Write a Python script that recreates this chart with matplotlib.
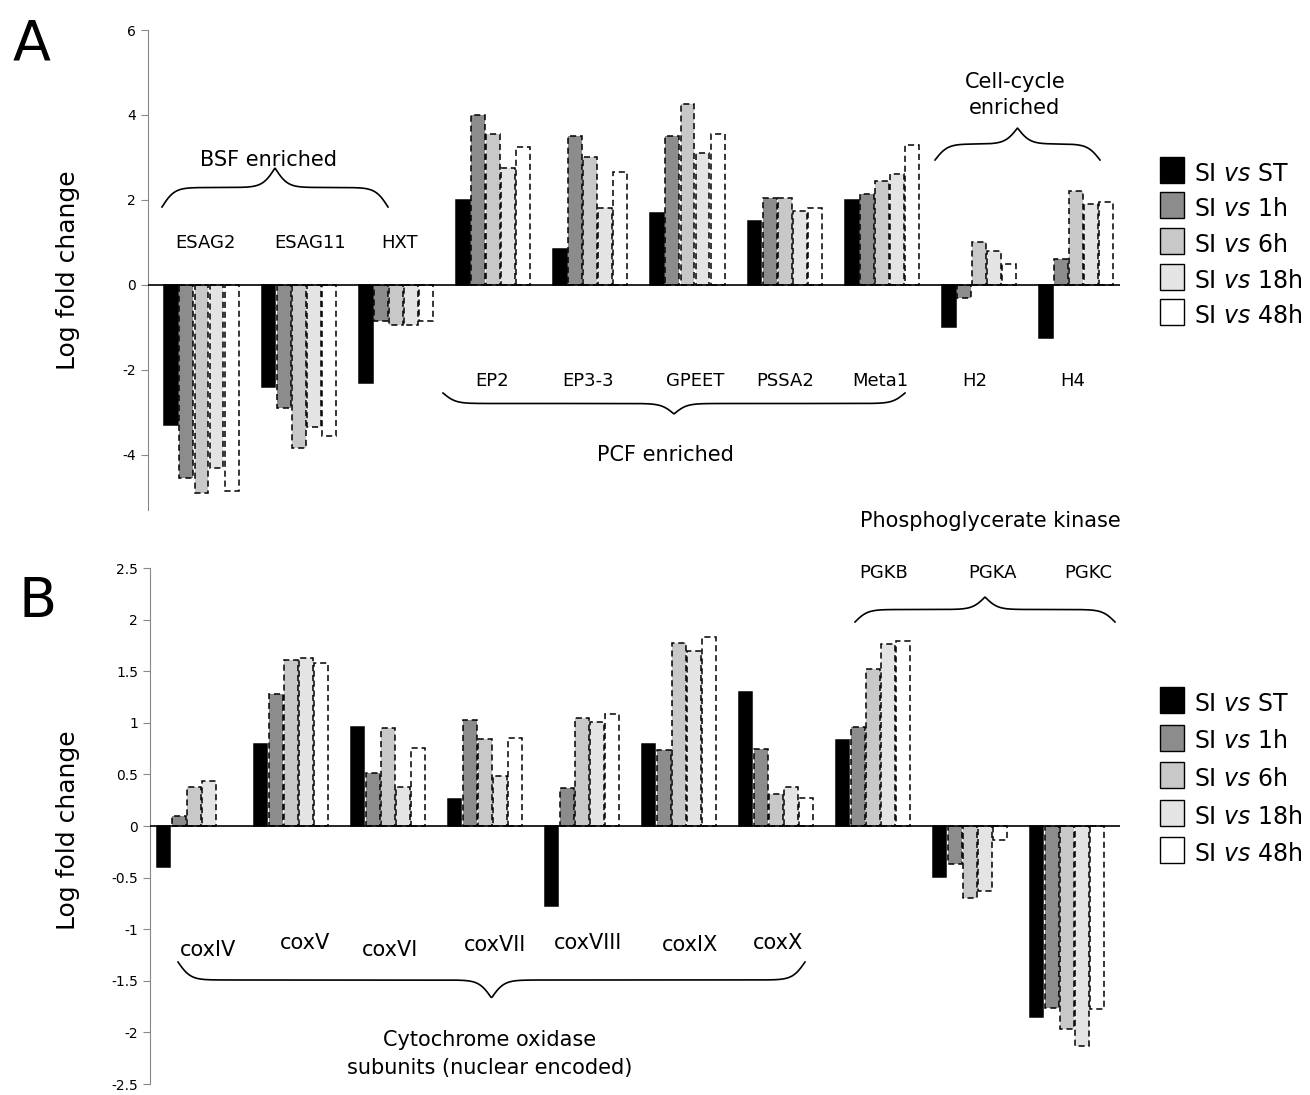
import numpy as np
import matplotlib
matplotlib.use("Agg")
import matplotlib.pyplot as plt
from matplotlib.patches import Rectangle
from matplotlib.lines import Line2D

series = ["ST", "1h", "6h", "18h", "48h"]
colors = ["#000000", "#8c8c8c", "#c8c8c8", "#e4e4e4", "#ffffff"]

genesA = ["ESAG2", "ESAG11", "HXT", "EP2", "EP3-3", "GPEET", "PSSA2", "Meta1", "H2", "H4"]
valsA = [
    [-3.3, -2.4, -2.3, 2.0, 0.85, 1.7, 1.5, 2.0, -1.0, -1.25],
    [-4.55, -2.9, -0.85, 4.0, 3.5, 3.5, 2.05, 2.15, -0.3, 0.6],
    [-4.9, -3.85, -0.95, 3.55, 3.0, 4.25, 2.05, 2.45, 1.0, 2.2],
    [-4.3, -3.35, -0.95, 2.75, 1.8, 3.1, 1.75, 2.6, 0.8, 1.9],
    [-4.85, -3.55, -0.85, 3.25, 2.65, 3.55, 1.8, 3.3, 0.5, 1.95],
]
genesB = ["coxIV", "coxV", "coxVI", "coxVII", "coxVIII", "coxIX", "coxX", "PGKB", "PGKA", "PGKC"]
valsB = [
    [-0.40, 0.79, 0.96, 0.26, -0.78, 0.79, 1.30, 0.83, -0.49, -1.85],
    [0.10, 1.28, 0.51, 1.03, 0.37, 0.74, 0.75, 0.96, -0.37, -1.76],
    [0.38, 1.61, 0.95, 0.84, 1.05, 1.77, 0.31, 1.52, -0.70, -1.97],
    [0.44, 1.63, 0.38, 0.48, 1.01, 1.70, 0.38, 1.76, -0.63, -2.13],
    [np.nan, 1.58, 0.76, 0.85, 1.09, 1.83, 0.27, 1.79, -0.14, -1.77],
]

W, H = 1310, 1095
fig = plt.figure(figsize=(W/100, H/100), dpi=100)

def px(x0, y0, x1, y1):
    return [x0/W, 1-y1/H, (x1-x0)/W, (y1-y0)/H]

def draw_bars(ax, vals, ngroups):
    bw = 0.155
    x = np.arange(ngroups)
    for i, v in enumerate(vals):
        v = np.array(v, dtype=float)
        m = ~np.isnan(v)
        ax.bar(x[m] + (i-2)*bw, v[m], width=bw*0.92, color=colors[i], edgecolor="black",
               linewidth=1.1, linestyle="-" if i == 0 else (0, (4, 2.5)), zorder=2)
    ax.axhline(0, color="black", lw=1.2, zorder=3)
    for s in ["top", "right", "bottom"]:
        ax.spines[s].set_visible(False)
    ax.set_xticks([])
    ax.tick_params(axis="y", labelsize=10, length=5, color="#888888")
    ax.spines["left"].set_color("#888888")

axA = fig.add_axes(px(148, 30, 1120, 510))
draw_bars(axA, valsA, 10)
axA.set_ylim(-5.3, 6)
axA.set_xlim(-0.55, 9.45)
axA.set_yticks([-4, -2, 0, 2, 4, 6])
axA.set_yticklabels(["-4", "-2", "0", "2", "4", "6"])

axB = fig.add_axes(px(150, 568, 1120, 1084))
draw_bars(axB, valsB, 10)
axB.set_ylim(-2.5, 2.5)
axB.set_xlim(-0.45, 9.55)
axB.set_yticks([-2.5, -2, -1.5, -1, -0.5, 0, 0.5, 1, 1.5, 2, 2.5])
axB.set_yticklabels(["-2.5", "-2", "-1.5", "-1", "-0.5", "0", "0.5", "1", "1.5", "2", "2.5"])

def T(x, y, s, **kw):
    fig.text(x/W, 1-y/H, s, ha=kw.pop("ha", "center"), va=kw.pop("va", "center"), **kw)

def brace(x0, x1, yend, ytip):
    xs = np.linspace(x0, x1, 600)
    xm = (x0+x1)/2
    h = ytip - yend
    a = 0.16
    ys = []
    for xx in xs:
        if xx <= xm:
            f = (1/(1+np.exp(-a*(xx-x0))) + 1/(1+np.exp(-a*(xx-xm))))/2
        else:
            f = (1/(1+np.exp(-a*(x1-xx))) + 1/(1+np.exp(-a*(xm-xx))))/2
        f = (f-0.25)/0.5
        ys.append(yend + h*np.clip(f, 0, 1))
    fig.add_artist(Line2D(xs/W, 1-np.array(ys)/H, color="black", lw=1.2))

fs = 13
# Panel A
T(32, 45, "A", fontsize=40)
T(68, 270, "Log fold change", fontsize=18, rotation=90)
brace(162, 388, 207, 168)
T(268, 160, "BSF enriched", fontsize=15)
for g, x in zip(genesA[:3], [205, 310, 400]):
    T(x, 243, g, fontsize=fs)
for g, x in zip(genesA[3:], [492, 588, 695, 785, 880, 975, 1073]):
    T(x, 381, g, fontsize=fs)
brace(443, 905, 393, 414)
T(665, 455, "PCF enriched", fontsize=15)
brace(935, 1100, 160, 128)
T(1015, 82, "Cell-cycle", fontsize=15)
T(1015, 108, "enriched", fontsize=15)

# Panel B
T(38, 602, "B", fontsize=40)
T(68, 830, "Log fold change", fontsize=18, rotation=90)
T(990, 521, "Phosphoglycerate kinase", fontsize=15)
for g, x in zip(genesB[7:], [884, 992, 1088]):
    T(x, 573, g, fontsize=fs)
brace(855, 1115, 622, 597)
for g, x, y in zip(genesB[:7], [208, 305, 390, 495, 588, 690, 778], [950, 943, 950, 945, 943, 945, 943]):
    T(x, y, g, fontsize=15)
brace(178, 805, 962, 998)
T(490, 1040, "Cytochrome oxidase", fontsize=15)
T(490, 1068, "subunits (nuclear encoded)", fontsize=15)

def legend(ytop, step):
    for i, (s, c) in enumerate(zip(series, colors)):
        y = ytop + i*step
        fig.add_artist(Rectangle(((1160)/W, 1-(y+13)/H), 24/W, 26/H, facecolor=c,
                                 edgecolor="black", lw=1.0, transform=fig.transFigure))
        T(1194, y+4, r"SI $\it{vs}$ " + s, fontsize=17, ha="left")

legend(170, 35.5)
legend(700, 37.5)

fig.savefig("out.png", dpi=100)
